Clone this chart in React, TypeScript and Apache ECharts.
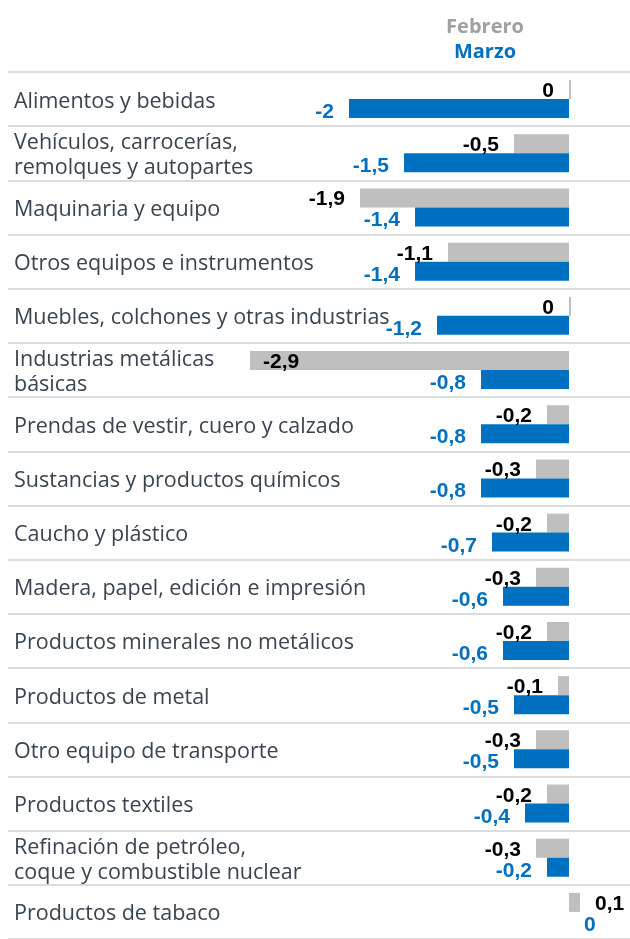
import { useEffect, useRef } from 'react';
import * as echarts from 'echarts';

const categories = [
  'Alimentos y bebidas',
  'Vehículos, carrocerías,\nremolques y autopartes',
  'Maquinaria y equipo',
  'Otros equipos e instrumentos',
  'Muebles, colchones y otras industrias',
  'Industrias metálicas\nbásicas',
  'Prendas de vestir, cuero y calzado',
  'Sustancias y productos químicos',
  'Caucho y plástico',
  'Madera, papel, edición e impresión',
  'Productos minerales no metálicos',
  'Productos de metal',
  'Otro equipo de transporte',
  'Productos textiles',
  'Refinación de petróleo,\ncoque y combustible nuclear',
  'Productos de tabaco',
];

const seriesNames = ['Febrero', 'Marzo'];
const febrero = [0, -0.5, -1.9, -1.1, 0, -2.9, -0.2, -0.3, -0.2, -0.3, -0.2, -0.1, -0.3, -0.2, -0.3, 0.1];
const marzo = [-2, -1.5, -1.4, -1.4, -1.2, -0.8, -0.8, -0.8, -0.7, -0.6, -0.6, -0.5, -0.5, -0.4, -0.2, 0];

const GRAY = '#bfbfbf';
const BLUE = '#0070c0';

export default function App() {
  const ref = useRef<HTMLDivElement>(null);
  useEffect(() => {
    const chart = echarts.init(ref.current!, null, { renderer: 'svg' });
    const fmt = (p: any) => String(p.value).replace('.', ',');
    const febData = febrero.map((v) => {
      if (v > 0) return { value: v, label: { position: 'right' } };
      if (v < -2.5) return { value: v, label: { position: 'insideLeft', distance: 13 } };
      return v;
    });
    const marData = marzo.map((v) => {
      if (v >= 0) return { value: v, label: { position: 'right', offset: [0, 2] } };
      return v;
    });
    const labelBase = {
      show: true,
      position: 'left',
      distance: 15,
      fontFamily: 'Liberation Sans, Arial, sans-serif',
      fontWeight: 'bold',
      fontSize: 21,
      formatter: fmt,
    };
    chart.setOption({
      animation: false,
      graphic: [
        {
          type: 'text',
          x: 485,
          y: 25,
          style: {
            text: seriesNames[0],
            align: 'center',
            verticalAlign: 'middle',
            fill: '#a0a0a0',
            fontFamily: 'Open Sans',
            fontWeight: 'bold',
            fontSize: 20,
          },
        },
        {
          type: 'text',
          x: 485,
          y: 50,
          style: {
            text: seriesNames[1],
            align: 'center',
            verticalAlign: 'middle',
            fill: BLUE,
            fontFamily: 'Open Sans',
            fontWeight: 'bold',
            fontSize: 20,
          },
        },
      ],
      grid: { left: 8, right: 0, top: 72, bottom: -2, containLabel: false },
      xAxis: {
        type: 'value',
        min: -5.1,
        max: 0.5545,
        show: false,
        splitLine: { show: false },
      },
      yAxis: {
        type: 'category',
        inverse: true,
        data: categories,
        axisLine: { show: false },
        axisTick: { show: false },
        splitLine: { show: true, lineStyle: { color: '#dcdcdc', width: 2 } },
        axisLabel: {
          inside: true,
          margin: 6,
          align: 'left',
          fontFamily: 'Open Sans',
          fontSize: 21.5,
          lineHeight: 25,
          color: '#3a4450',
        },
      },
      series: [
        {
          name: seriesNames[0],
          type: 'bar',
          data: febData,
          barWidth: 19,
          barGap: '0%',
          barMinHeight: 2,
          itemStyle: { color: GRAY },
          label: { ...labelBase, color: '#000000' },
        },
        {
          name: seriesNames[1],
          type: 'bar',
          data: marData,
          barWidth: 19,
          barGap: '0%',
          itemStyle: { color: BLUE },
          label: { ...labelBase, color: BLUE, offset: [0, 2] },
        },
      ],
    });
    return () => chart.dispose();
  }, []);
  return (
    <div
      ref={ref}
      style={{ position: 'fixed', left: 0, top: 0, width: 630, height: 939 }}
    />
  );
}
